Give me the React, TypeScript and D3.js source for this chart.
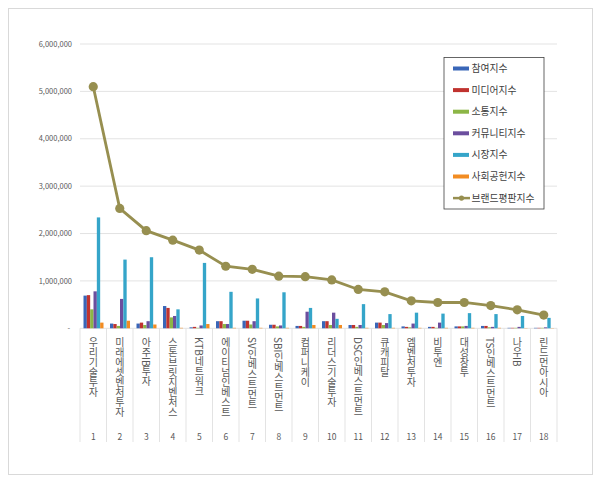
import React from 'react';
import * as d3 from 'd3';

const companies = [
  '우리기술투자', '미래에셋벤처투자', '아주IB투자', '스톤브릿지벤처스', 'KTB네트워크', '에이티넘인베스트',
  'SV인베스트먼트', 'SBI인베스트먼트', '컴퍼니케이', '리더스기술투자', 'DSC인베스트먼트', '큐캐피탈',
  '엠벤처투자', '비투엔', '대성창투', 'TS인베스트먼트', '나우IB', '린드먼아시아',
];
const ranks = companies.map((_, i) => String(i + 1));

const seriesNames = ['참여지수', '미디어지수', '소통지수', '커뮤니티지수', '시장지수', '사회공헌지수'];
const seriesColors = ['#3966B8', '#C0332F', '#8CB646', '#6B4E9E', '#35A5C9', '#F28C22'];

const participation = [690000, 100000, 100000, 470000, 20000, 150000, 160000, 75000, 50000, 150000, 70000, 120000, 40000, 30000, 40000, 50000, 10000, 10000];
const media = [700000, 90000, 120000, 430000, 30000, 150000, 160000, 75000, 50000, 150000, 70000, 120000, 30000, 30000, 40000, 50000, 10000, 10000];
const communication = [400000, 50000, 70000, 230000, 10000, 90000, 80000, 40000, 30000, 70000, 30000, 70000, 20000, 10000, 40000, 20000, 10000, 10000];
const community = [780000, 620000, 150000, 260000, 60000, 90000, 150000, 60000, 350000, 330000, 70000, 110000, 100000, 120000, 50000, 30000, 30000, 20000];
const market = [2340000, 1450000, 1500000, 400000, 1380000, 770000, 630000, 760000, 430000, 200000, 510000, 300000, 330000, 310000, 320000, 300000, 260000, 220000];
const contribution = [120000, 160000, 80000, 10000, 90000, 10000, 10000, 10000, 70000, 70000, 10000, 10000, 10000, 10000, 10000, 10000, 5000, 5000];
const brandIndex = [5100000, 2530000, 2060000, 1860000, 1650000, 1310000, 1245000, 1100000, 1090000, 1020000, 820000, 770000, 580000, 545000, 545000, 480000, 390000, 280000];

const barSeries = [participation, media, communication, community, market, contribution];
const yTicks = [0, 1000000, 2000000, 3000000, 4000000, 5000000, 6000000];

const W = 600;
const H = 482;
const plot = { left: 80, right: 557, top: 44, bottom: 328.3 };
const lineColor = '#978F50';
const font = '"Noto Sans CJK KR", "Noto Sans", sans-serif';

export default function App() {
  const x = d3.scaleBand<number>()
    .domain(d3.range(companies.length))
    .range([plot.left, plot.right])
    .padding(0);
  const bw = x.bandwidth();
  const xs = d3.scaleBand<number>()
    .domain(d3.range(barSeries.length))
    .range([3.5, bw - 3])
    .padding(0);
  const y = d3.scaleLinear().domain([0, 6000000]).range([plot.bottom, plot.top]);
  const fmt = d3.format(',');

  const line = d3.line<number>()
    .x((_, i) => (x(i) as number) + bw / 2)
    .y(d => y(d));

  const legendX = 444;
  const legendY = 57.5;
  const legendItems = [...seriesNames, '브랜드평판지수'];

  return (
    <div style={{ position: 'fixed', left: 0, top: 0 }}>
      <svg width={W} height={H} style={{ display: 'block', fontFamily: font }}>
        <rect x={0} y={0} width={W} height={H} fill="#fff" />
        <rect x={8.5} y={8.5} width={584} height={466} fill="#fff" stroke="#D9D9D9" />

        {/* gridlines + y labels */}
        {yTicks.map(t => (
          <g key={t}>
            {t > 0 && (
              <line x1={plot.left} x2={plot.right} y1={y(t)} y2={y(t)} stroke="#E3E3E3" strokeWidth={1} />
            )}
            <text
              x={t === 0 ? 70 : 72}
              y={y(t)}
              dy="0.35em"
              textAnchor="end"
              fontSize={7.5}
              fill="#595959"
            >
              {t === 0 ? '-' : fmt(t)}
            </text>
          </g>
        ))}

        {/* category separators */}
        {d3.range(companies.length + 1).map(i => {
          const xx = plot.left + i * bw;
          return <line key={i} x1={xx} x2={xx} y1={plot.bottom} y2={442} stroke="#E3E3E3" strokeWidth={1} />;
        })}
        <line x1={plot.left} x2={plot.right} y1={plot.bottom} y2={plot.bottom} stroke="#E3E3E3" />

        {/* bars */}
        {barSeries.map((vals, s) => (
          <g key={s} fill={seriesColors[s]}>
            {vals.map((v, i) => (
              <rect
                key={i}
                x={(x(i) as number) + (xs(s) as number)}
                y={y(v)}
                width={xs.bandwidth()}
                height={plot.bottom - y(v)}
              />
            ))}
          </g>
        ))}

        {/* brand index line */}
        <path d={line(brandIndex) || ''} fill="none" stroke={lineColor} strokeWidth={2.8} />
        {brandIndex.map((v, i) => (
          <circle key={i} cx={(x(i) as number) + bw / 2} cy={y(v)} r={4.6} fill={lineColor} />
        ))}

        {/* category labels */}
        {companies.map((c, i) => (
          <text
            key={c}
            x={(x(i) as number) + bw / 2}
            y={337}
            fontSize={10}
            fill="#595959"
            style={{ writingMode: 'vertical-rl', textOrientation: 'mixed' }}
            dominantBaseline="central"
          >
            {c}
          </text>
        ))}
        {ranks.map((r, i) => (
          <text
            key={r}
            x={(x(i) as number) + bw / 2}
            y={440}
            textAnchor="middle"
            fontSize={8.5}
            fill="#595959"
          >
            {r}
          </text>
        ))}

        {/* legend */}
        <rect x={legendX} y={legendY} width={100} height={151.5} fill="#fff" stroke="#404040" strokeWidth={0.8} />
        {legendItems.map((name, k) => {
          const cy = 68.5 + k * 21.6;
          return (
            <g key={name}>
              {k < seriesNames.length ? (
                <rect x={453} y={cy - 2} width={16} height={4} fill={seriesColors[k]} />
              ) : (
                <g>
                  <line x1={453} x2={470} y1={cy} y2={cy} stroke={lineColor} strokeWidth={2.5} />
                  <circle cx={461.5} cy={cy} r={2.6} fill={lineColor} />
                </g>
              )}
              <text x={471.5} y={cy} dy="0.36em" fontSize={9.8} fill="#404040">
                {name}
              </text>
            </g>
          );
        })}
      </svg>
    </div>
  );
}
